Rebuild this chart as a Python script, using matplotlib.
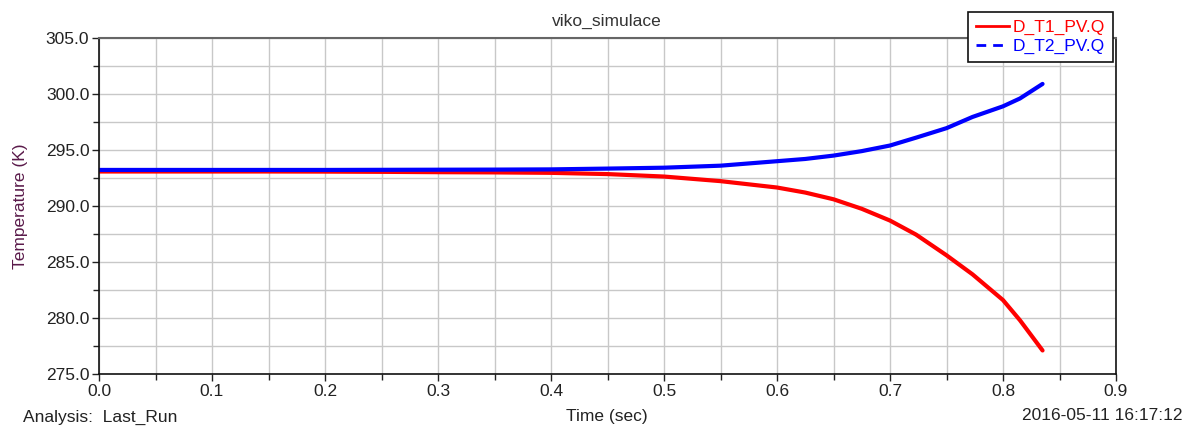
import matplotlib
matplotlib.use("Agg")
import matplotlib.pyplot as plt
from matplotlib.ticker import MultipleLocator, FormatStrFormatter

plt.rcParams['font.family'] = ['Liberation Sans', 'DejaVu Sans']

title = "viko_simulace"
series_names = ["D_T1_PV.Q", "D_T2_PV.Q"]
time = [0.0, 0.05, 0.1, 0.15, 0.2, 0.25, 0.3, 0.35, 0.4, 0.45, 0.5, 0.55,
        0.6, 0.625, 0.65, 0.675, 0.7, 0.723, 0.75, 0.773, 0.8, 0.815, 0.835]
t1 = [293.08, 293.08, 293.08, 293.08, 293.07, 293.05, 293.02, 293.0, 292.96,
      292.85, 292.63, 292.22, 291.65, 291.2, 290.6, 289.75, 288.7, 287.45,
      285.6, 283.9, 281.6, 279.8, 277.1]
t2 = [293.22, 293.22, 293.22, 293.22, 293.22, 293.23, 293.24, 293.25, 293.27,
      293.34, 293.42, 293.6, 294.0, 294.2, 294.5, 294.9, 295.4, 296.1,
      296.95, 297.95, 298.9, 299.6, 300.9]

fig = plt.figure(figsize=(11.95, 4.28), dpi=100)
ax = fig.add_axes([99/1195, 1-374/428, (1116-99)/1195, (374-38)/428])

ax.plot(time, t1, color='#ff0000', lw=3.0, solid_capstyle='round',
        solid_joinstyle='round', label=series_names[0])
ax.plot(time, t2, color='#0000ff', lw=3.0, solid_capstyle='round',
        solid_joinstyle='round', label=series_names[1])

ax.set_xlim(0, 0.9)
ax.set_ylim(275, 305)
ax.xaxis.set_major_locator(MultipleLocator(0.1))
ax.xaxis.set_minor_locator(MultipleLocator(0.05))
ax.yaxis.set_major_locator(MultipleLocator(5))
ax.yaxis.set_minor_locator(MultipleLocator(2.5))
ax.xaxis.set_major_formatter(FormatStrFormatter('%.1f'))
ax.yaxis.set_major_formatter(FormatStrFormatter('%.1f'))
ax.grid(True, which='both', color='#c8c8c8', lw=1.0)
ax.set_axisbelow(True)

ax.tick_params(axis='both', which='major', labelsize=12.5, length=5, width=1,
               color='#222222', labelcolor='#222222', direction='out', pad=2)
ax.tick_params(axis='both', which='minor', length=4, width=1, color='#222222',
               direction='out')
ax.tick_params(axis='y', which='both', right=False)

for s in ['left', 'bottom', 'right']:
    ax.spines[s].set_color('#111111')
    ax.spines[s].set_linewidth(1.2)
ax.spines['top'].set_color('#666666')
ax.spines['top'].set_linewidth(1.5)

ax.set_ylabel('Temperature (K)', fontsize=12.5, color='#5a1a4a', labelpad=12.5)

fig.text(607/1195, 1-21/428, title, ha='center', va='center', fontsize=12.5, color='#333333')
fig.text(607/1195, 1-416/428, 'Time (sec)', ha='center', va='center', fontsize=12.5, color='#222222')
fig.text(23/1195, 1-417/428, 'Analysis:  Last_Run', ha='left', va='center', fontsize=12.5, color='#222222')
fig.text(1183/1195, 1-416/428, '2016-05-11 16:17:12', ha='right', va='center', fontsize=12.5, color='#222222')

h1, = ax.plot([], [], color='#ff0000', lw=2)
h2, = ax.plot([], [], color='#0000ff', lw=2, dashes=(3.5, 2.5))
leg = fig.legend([h1, h2], series_names, loc='upper right',
                 bbox_to_anchor=(1113/1195, 1-12/428), fontsize=12.5,
                 frameon=True, fancybox=False, framealpha=1, edgecolor='#111111',
                 handlelength=1.9, handletextpad=0.25, borderpad=0.45,
                 labelspacing=0.2, borderaxespad=0)
leg.get_frame().set_linewidth(1.2)
for txt, c in zip(leg.get_texts(), ['#ff0000', '#0000ff']):
    txt.set_color(c)

fig.savefig('out.png', dpi=100)
